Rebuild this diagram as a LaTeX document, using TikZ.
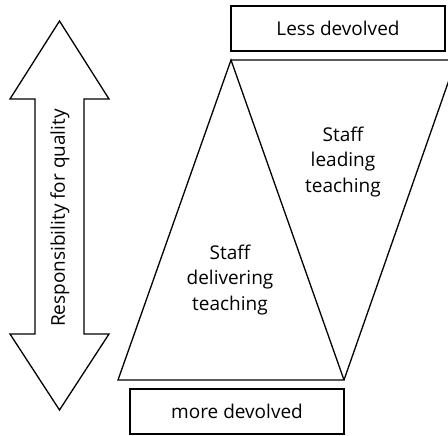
\documentclass[tikz,border=0pt]{standalone}
\usepackage{fontspec}
\setmainfont{Open Sans}
\begin{document}
\begin{tikzpicture}[x=1pt,y=-1pt,
  outline/.style={draw=black,line width=1.3pt,line join=miter},
  label/.style={font=\fontsize{19}{25.5}\selectfont,align=center,text=black},
  tag/.style={draw=black,line width=1.3pt,minimum width=214pt,minimum height=45pt,inner sep=0pt,
              font=\fontsize{19}{22}\selectfont}]
\useasboundingbox (0,0) rectangle (448,436);
\begin{scope}
\clip (0,0) rectangle (448,436);
% double-headed arrow
\draw[outline] (59.5,21) -- (109,99) -- (84,99) -- (84,334) -- (109,334) -- (59.5,410)
  -- (10,334) -- (35,334) -- (35,99) -- (10,99) -- cycle;
% upright and inverted triangles
\coordinate (apex) at (231,60);
\coordinate (bl) at (118,380);
\coordinate (br) at (344,380);
\coordinate (tr) at (456,60);
\draw[outline] (apex) -- (br) -- (bl) -- cycle;
\draw[outline] (apex) -- (tr) -- (br);
\end{scope}
\node[label,rotate=90] (resp) at (60,218) {Responsibility for quality};
\node[label] (deliver) at (230,280) {Staff\\delivering\\teaching};
\node[label] (lead) at (343,162) {Staff\\leading\\teaching};
\node[tag] (less) at (338,28.5) {Less devolved};
\node[tag] (more) at (237,411.5) {more devolved};
\end{tikzpicture}
\end{document}
